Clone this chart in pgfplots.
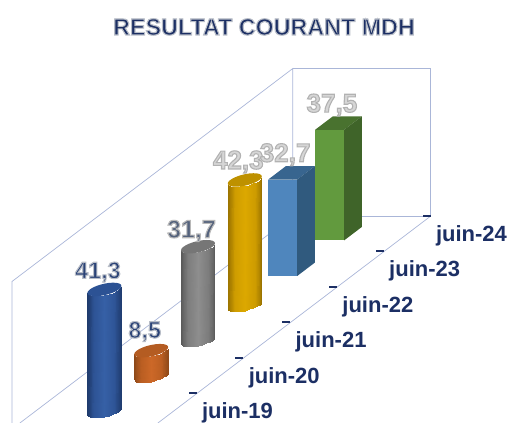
\documentclass[border=0pt]{standalone}
\usepackage{fontspec}
\setmainfont{Liberation Sans}
\usepackage{pgfplots}
\usepackage{pgfplotstable}
\pgfplotsset{compat=1.18}
\definecolor{gridc}{RGB}{170,182,216}
\definecolor{navy}{RGB}{28,47,100}
\definecolor{slate}{RGB}{42,66,118}
\definecolor{slatetwo}{RGB}{84,98,124}
\definecolor{pale}{RGB}{214,214,214}
\pgfplotstableread{
dx dy c h
0.0993 0.0895 1.00 0
0.0540 0.1007 0.98 0
0.0050 0.1050 0.93 0
-0.0444 0.1021 0.85 0
-0.0907 0.0923 0.75 0
-0.1308 0.0762 0.63 0
-0.1620 0.0549 0.50 0
-0.1822 0.0298 0.37 0
-0.1899 0.0027 0.25 0
-0.1848 -0.0245 0.15 0
-0.1670 -0.0501 0.07 0
-0.1378 -0.0723 0.02 0
-0.0993 -0.0895 0.00 0
0.0993 0.0895 1.00 1
0.0540 0.1007 0.98 1
0.0050 0.1050 0.93 1
-0.0444 0.1021 0.85 1
-0.0907 0.0923 0.75 1
-0.1308 0.0762 0.63 1
-0.1620 0.0549 0.50 1
-0.1822 0.0298 0.37 1
-0.1899 0.0027 0.25 1
-0.1848 -0.0245 0.15 1
-0.1670 -0.0501 0.07 1
-0.1378 -0.0723 0.02 1
-0.0993 -0.0895 0.00 1
}\cylside
\pgfplotstableread{
dx dy h
0.0993 0.0895 1
0.0540 0.1007 1
0.0050 0.1050 1
-0.0444 0.1021 1
-0.0907 0.0923 1
-0.1308 0.0762 1
-0.1620 0.0549 1
-0.1822 0.0298 1
-0.1899 0.0027 1
-0.1848 -0.0245 1
-0.1670 -0.0501 1
-0.1378 -0.0723 1
-0.0993 -0.0895 1
-0.0540 -0.1007 1
-0.0050 -0.1050 1
0.0444 -0.1021 1
0.0907 -0.0923 1
0.1308 -0.0762 1
0.1620 -0.0549 1
0.1822 -0.0298 1
0.1899 -0.0027 1
0.1848 0.0245 1
0.1670 0.0501 1
0.1378 0.0723 1
}\cylcap
\pgfplotsset{
 colormap={cnavy}{rgb255(0cm)=(30,58,108); rgb255(2cm)=(46,84,150); rgb255(5cm)=(54,96,166); rgb255(8cm)=(46,84,150); rgb255(10cm)=(30,58,108)},
 colormap={corange}{rgb255(0cm)=(140,72,24); rgb255(2cm)=(186,94,34); rgb255(5cm)=(204,104,40); rgb255(8cm)=(186,94,34); rgb255(10cm)=(140,72,24)},
 colormap={cgray}{rgb255(0cm)=(90,90,90); rgb255(2cm)=(125,125,125); rgb255(5cm)=(142,142,142); rgb255(8cm)=(125,125,125); rgb255(10cm)=(90,90,90)},
 colormap={cyellow}{rgb255(0cm)=(150,112,0); rgb255(2cm)=(206,156,0); rgb255(5cm)=(220,168,0); rgb255(8cm)=(206,156,0); rgb255(10cm)=(150,112,0)},
}
\newcommand\cyl[4]{%
 \addplot3[surf, shader=interp, mesh/rows=2, colormap name=#3, point meta=\thisrow{c}]
   table[x expr=\thisrow{dx}+#1, y expr=\thisrow{dy}+0.5, z expr=\thisrow{h}*#2] {\cylside};
 \addplot3[fill=#4, draw=none]
   table[x expr=\thisrow{dx}+#1, y expr=\thisrow{dy}+0.5, z expr=\thisrow{h}*#2] {\cylcap};
}
% text filled in one colour, outlined in another (one real copy of the text)
\newcommand\halo[4]{{\color{#1}\special{pdf:code 2 Tr #3 w #2 RG}#4\special{pdf:code 0 Tr}}}
\newcommand\vlab[4]{\node[anchor=base, xshift=-6.5pt, yshift=#2] at (axis cs:#1) {\fontsize{#4}{#4}\selectfont\bfseries #3};}
\newcommand\tlab[2]{\node[anchor=base west, xshift=5pt, yshift=-25.5pt, text=navy, inner sep=0pt] at (axis cs:#1,1,0) {\fontsize{22}{22}\selectfont\bfseries #2};}
\begin{document}
\begin{tikzpicture}[x=1pt,y=1pt]
\path[use as bounding box] (0,0) rectangle (509,423);
\begin{axis}[
  at={(12pt,-6pt)}, anchor=origin,
  x={(46.8pt,35.5pt)}, y={(138pt,0pt)}, z={(0pt,2.95pt)},
  disabledatascaling,
  xmin=0,xmax=6,ymin=0,ymax=1,zmin=0,zmax=50,
  hide axis, clip=false,
  point meta min=0, point meta max=1,
]
% walls and floor
\addplot3[gridc, line width=0.7pt] coordinates {(0,0,2) (0,0,50) (6,0,50) (6,0,0) (0.17,0,0)};
\addplot3[gridc, line width=0.7pt] coordinates {(6,0,50) (6,1,50) (6,1,0) (6,0,0)};
\addplot3[gridc, line width=0.7pt] coordinates {(6,1,0) (0.17,1,0)};
% ticks
\addplot3[only marks, navy, line width=2pt, mark=-, mark size=4pt, mark options={line width=2pt, navy}]
  coordinates {(6,0.97,0) (5,0.97,0) (4,0.97,0) (3,0.97,0) (2,0.97,0) (1,0.97,0)};
% juin-24 box
\addplot3[fill={rgb,255:red,73;green,114;blue,47}, draw=none] coordinates {(5.31,0.395,37.5) (5.69,0.395,37.5) (5.69,0.605,37.5) (5.31,0.605,37.5)};
\addplot3[fill={rgb,255:red,63;green,100;blue,41}, draw=none] coordinates {(5.31,0.605,0) (5.69,0.605,0) (5.69,0.605,37.5) (5.31,0.605,37.5)};
\addplot3[fill={rgb,255:red,98;green,154;blue,62}, draw=none] coordinates {(5.31,0.395,0) (5.31,0.605,0) (5.31,0.605,37.5) (5.31,0.395,37.5)};
% juin-23 box
\addplot3[fill={rgb,255:red,56;green,101;blue,143}, draw=none] coordinates {(4.31,0.395,32.7) (4.69,0.395,32.7) (4.69,0.605,32.7) (4.31,0.605,32.7)};
\addplot3[fill={rgb,255:red,48;green,90;blue,126}, draw=none] coordinates {(4.31,0.605,0) (4.69,0.605,0) (4.69,0.605,32.7) (4.31,0.605,32.7)};
\addplot3[fill={rgb,255:red,79;green,134;blue,189}, draw=none] coordinates {(4.31,0.395,0) (4.31,0.605,0) (4.31,0.605,32.7) (4.31,0.395,32.7)};
% cylinders
\cyl{3.5}{42.3}{cyellow}{{rgb,255:red,190;green,145;blue,0}}
\cyl{2.5}{31.7}{cgray}{{rgb,255:red,118;green,118;blue,118}}
\cyl{1.5}{8.5}{corange}{{rgb,255:red,180;green,92;blue,34}}
\cyl{0.5}{41.3}{cnavy}{{rgb,255:red,44;green,82;blue,148}}
% value labels
\vlab{0.5,0.5,41.3}{11pt}{\halo{slate}{0.72 0.74 0.78}{1.1}{41,3}}{23.5}
\vlab{1.5,0.5,8.5}{12.7pt}{\halo{slate}{0.72 0.74 0.78}{1.1}{8,5}}{23.5}
\vlab{2.5,0.5,31.7}{9pt}{\halo{slatetwo}{0.72 0.72 0.72}{1.1}{31,7}}{25}
\vlab{3.5,0.5,42.3}{11pt}{\halo{pale}{0.70 0.70 0.70}{1.1}{42,3}}{26}
\vlab{4.5,0.5,32.7}{11pt}{\halo{pale}{0.70 0.70 0.70}{1.1}{32,7}}{26}
\vlab{5.5,0.5,37.5}{11pt}{\halo{pale}{0.70 0.70 0.70}{1.1}{37,5}}{26}
% tick labels
\tlab{6}{juin-24}
\tlab{5}{juin-23}
\tlab{4}{juin-22}
\tlab{3}{juin-21}
\tlab{2}{juin-20}
\tlab{1}{juin-19}
\end{axis}
\node[anchor=base, inner sep=0pt] at (264,388) {\fontsize{23.3}{23.3}\selectfont\bfseries\halo{navy}{0.72 0.74 0.78}{1.1}{RESULTAT COURANT MDH}};
\end{tikzpicture}
\end{document}
